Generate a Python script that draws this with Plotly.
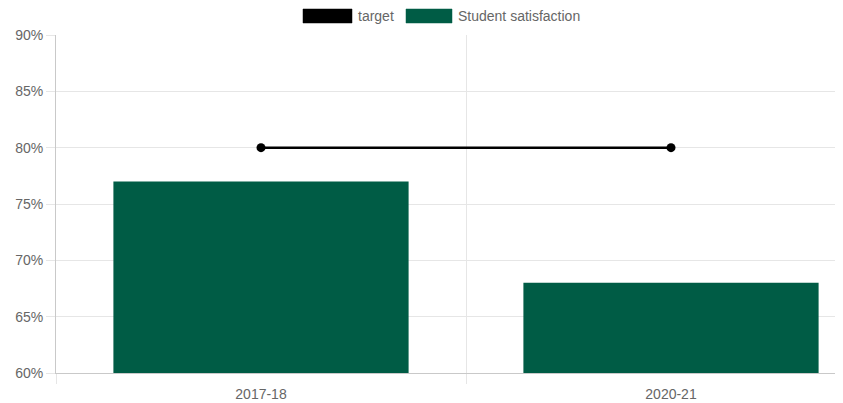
import plotly.graph_objects as go

# ---------------------------------------------------------------------------
# Data
# ---------------------------------------------------------------------------

YEARS = ["2017-18", "2020-21"]
SATISFACTION = [77, 68]
TARGET = [80, 80]

GREEN = "#005C45"
TEXT = "#666666"
GRID = "#e6e6e6"
AXIS = "#c9c9c9"
FONT = "Liberation Sans, Arial, sans-serif"

# page body adds an 8px offset; figure sized so it ends at the window edge
OFF = 8
W, H = 843 - OFF, 403 - OFF
M_L, M_R, M_T, M_B = 48, 0, 27, 30
PW, PH = W - M_L - M_R, H - M_T - M_B


def px_x(x):
    """screen x (as seen in the page) -> paper fraction"""
    return (x - OFF - M_L) / PW


def px_y(y):
    return (H - M_B - (y - OFF)) / PH


fig = go.Figure()
fig.add_trace(go.Bar(
    x=YEARS,
    y=SATISFACTION,
    name="Student satisfaction",
    marker=dict(color=GREEN, line=dict(width=0)),
    width=0.72,
))
fig.add_trace(go.Scatter(
    x=YEARS,
    y=TARGET,
    name="target",
    mode="lines+markers",
    line=dict(color="black", width=2.5),
    marker=dict(color="black", size=9),
))

# hand-drawn legend (wide colour boxes, like the original)
legend = [("target", "black", 303, 352), ("Student satisfaction", GREEN, 406, 452)]
shapes = []
annotations = []
for label, color, x0, x1 in legend:
    shapes.append(dict(
        type="rect", xref="paper", yref="paper",
        x0=px_x(x0), x1=px_x(x1), y0=px_y(23), y1=px_y(9),
        fillcolor=color, line=dict(width=0.5, color=color),
    ))
    annotations.append(dict(
        xref="paper", yref="paper", x=px_x(x1 + 4), y=px_y(16),
        text=label, showarrow=False, xanchor="left", yanchor="middle",
        font=dict(size=14, color=TEXT, family=FONT),
    ))

fig.update_layout(
    width=W,
    height=H,
    margin=dict(l=M_L, r=M_R, t=M_T, b=M_B, autoexpand=False),
    paper_bgcolor="white",
    plot_bgcolor="white",
    font=dict(family=FONT, size=14, color=TEXT),
    showlegend=False,
    shapes=shapes,
    annotations=annotations,
    xaxis=dict(
        type="category",
        range=[-0.5, -0.5 + PW / 410],
        tickson="boundaries",
        showgrid=True,
        gridcolor=GRID,
        ticks="outside",
        ticklen=10,
        tickcolor=GRID,
        ticklabelstandoff=8,
        showline=True,
        linecolor=AXIS,
        linewidth=1,
        zeroline=False,
    ),
    yaxis=dict(
        range=[60, 90],
        dtick=5,
        ticksuffix="%",
        showgrid=True,
        gridcolor=GRID,
        ticks="outside",
        ticklen=9,
        tickcolor=GRID,
        showline=True,
        linecolor=AXIS,
        linewidth=1,
        zeroline=False,
    ),
)

fig.write_html("out.html")
